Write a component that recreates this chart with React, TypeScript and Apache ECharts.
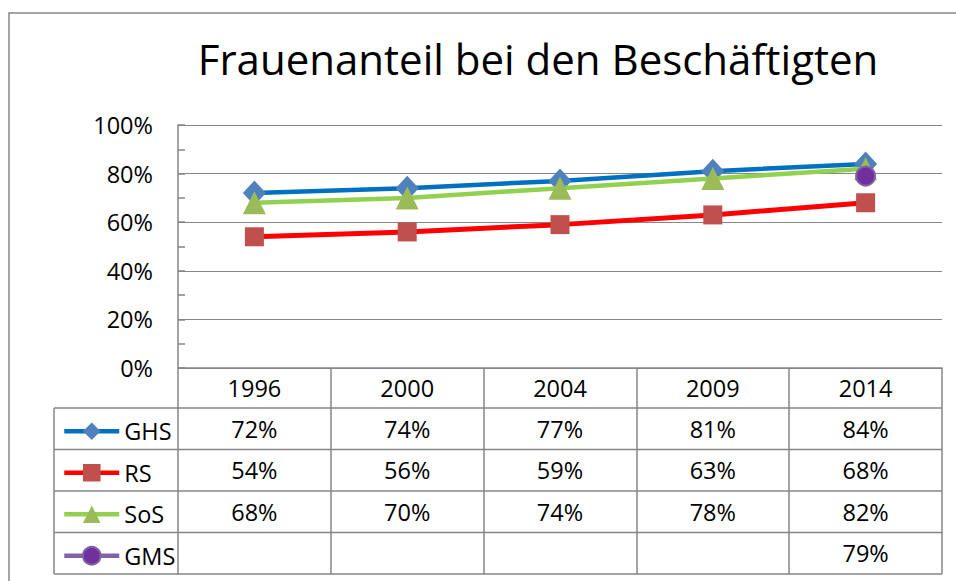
import React, { useEffect, useRef } from "react";
import * as echarts from "echarts";

const titleText = "Frauenanteil bei den Beschäftigten";
const years = ["1996", "2000", "2004", "2009", "2014"];
const seriesNames = ["GHS", "RS", "SoS", "GMS"];
const ghs = [72, 74, 77, 81, 84];
const rs = [54, 56, 59, 63, 68];
const sos = [68, 70, 74, 78, 82];
const gms: (number | null)[] = [null, null, null, null, 79];
const yTicks = [0, 20, 40, 60, 80, 100];

const FONT = "Open Sans";
const FS = 23.5;
const GRID_LEFT = 178;
const GRID_TOP = 125;
const GRID_W = 764;
const GRID_H = 243;
const ROW_H = 41.5;
const HEAD_H = 40;
const TABLE_LEFT = 54;
const GRAY = "#868686";
const LEG_H = 22;

export default function App() {
  const ref = useRef<HTMLDivElement>(null);
  useEffect(() => {
    if (!ref.current) return;
    const chart = echarts.init(ref.current, undefined, { renderer: "svg" });
    const rows = [ghs, rs, sos, gms];
    const baseY = GRID_TOP + GRID_H;
    const tableBottom = baseY + HEAD_H + ROW_H * 4;

    const rowAxes = rows.map((vals, k) => ({
      type: "category",
      gridIndex: 0,
      position: "bottom",
      data: years,
      offset: HEAD_H + ROW_H * k,
      boundaryGap: true,
      axisLine: { show: false },
      axisTick: { show: false },
      splitLine: { show: false },
      axisLabel: {
        interval: 0,
        margin: ROW_H / 2,
        verticalAlign: "middle",
        lineHeight: 24,
        fontFamily: FONT,
        fontSize: FS,
        color: "#000",
        formatter: (_v: string, i: number) => (vals[i] == null ? "" : `${vals[i]}%`),
      },
    }));

    const legends = seriesNames.map((name, k) => ({
      orient: "vertical",
      left: 62,
      top: baseY + HEAD_H + ROW_H * k + (ROW_H - LEG_H) / 2,
      padding: 0,
      itemWidth: 55,
      itemHeight: LEG_H,
      selectedMode: false,
      data: [name],
      lineStyle: { width: 4.5 },
      textStyle: {
        fontFamily: FONT,
        fontSize: FS,
        lineHeight: LEG_H,
        color: "#000",
        padding: [0, 0, 5, 0],
      },
    }));

    const hLines = [0, 1, 2, 3, 4].map((k) => ({
      type: "line",
      z: 1,
      shape: {
        x1: TABLE_LEFT,
        y1: baseY + HEAD_H + ROW_H * k,
        x2: GRID_LEFT + GRID_W,
        y2: baseY + HEAD_H + ROW_H * k,
      },
      style: { stroke: GRAY, lineWidth: 1.5 },
    }));

    chart.setOption({
      animation: false,
      backgroundColor: "#fff",
      textStyle: { fontFamily: FONT },
      grid: { left: GRID_LEFT, top: GRID_TOP, width: GRID_W, height: GRID_H, containLabel: false },
      legend: legends,
      xAxis: [
        {
          type: "category",
          data: years,
          boundaryGap: true,
          axisLine: { show: true, lineStyle: { color: GRAY, width: 1.5 } },
          axisTick: {
            show: true,
            interval: 0,
            alignWithLabel: false,
            length: tableBottom - baseY,
            lineStyle: { color: GRAY, width: 1.5 },
          },
          axisLabel: {
            interval: 0,
            margin: HEAD_H / 2,
            verticalAlign: "middle",
            lineHeight: 24,
            fontFamily: FONT,
            fontSize: FS,
            color: "#000",
          },
        },
        ...rowAxes,
      ],
      yAxis: {
        type: "value",
        min: yTicks[0],
        max: yTicks[yTicks.length - 1],
        interval: 20,
        axisLine: { show: true, lineStyle: { color: GRAY, width: 1.5 } },
        axisTick: { show: true, inside: true, length: 7, lineStyle: { color: GRAY, width: 1.5 } },
        minorTick: { show: true, splitNumber: 2, length: 7, lineStyle: { color: GRAY, width: 1.5 } },
        splitLine: { show: true, lineStyle: { color: GRAY, width: 1.2 } },
        axisLabel: {
          margin: 25,
          fontFamily: FONT,
          fontSize: FS,
          color: "#000",
          formatter: "{value}%",
        },
      },
      series: [
        {
          name: "GHS",
          type: "line",
          data: ghs,
          symbol: "diamond",
          symbolSize: [23, 25],
          lineStyle: { color: "#0070C0", width: 4.5 },
          itemStyle: { color: "#4F81BD" },
          z: 2,
        },
        {
          name: "RS",
          type: "line",
          data: rs,
          symbol: "rect",
          symbolSize: 19,
          lineStyle: { color: "#FF0000", width: 5 },
          itemStyle: { color: "#C0504D" },
          z: 3,
        },
        {
          name: "SoS",
          type: "line",
          data: sos,
          symbol: "triangle",
          symbolSize: 23,
          lineStyle: { color: "#92D050", width: 4.5 },
          itemStyle: { color: "#9BBB59" },
          z: 4,
        },
        {
          name: "GMS",
          type: "line",
          data: gms,
          symbol: "circle",
          symbolSize: 19,
          lineStyle: { color: "#8064A2", width: 4.5 },
          itemStyle: { color: "#7030A0", borderColor: "#8064A2", borderWidth: 2 },
          z: 5,
        },
      ],
      graphic: [
        {
          type: "rect",
          z: 0,
          shape: { x: 9, y: 13, width: 980, height: 620 },
          style: { fill: "none", stroke: GRAY, lineWidth: 1.5 },
        },
        {
          type: "text",
          z: 10,
          x: 538,
          y: 58,
          style: {
            text: titleText,
            fontFamily: FONT,
            fontSize: 42,
            fill: "#000",
            align: "center",
            verticalAlign: "middle",
          },
        },
        ...hLines,
        {
          type: "line",
          z: 1,
          shape: { x1: TABLE_LEFT, y1: baseY + HEAD_H, x2: TABLE_LEFT, y2: tableBottom },
          style: { stroke: GRAY, lineWidth: 1.5 },
        },
      ],
    });
    return () => chart.dispose();
  }, []);
  return (
    <div
      ref={ref}
      style={{ position: "fixed", left: 0, top: 0, width: 956, height: 581, background: "#fff" }}
    />
  );
}
